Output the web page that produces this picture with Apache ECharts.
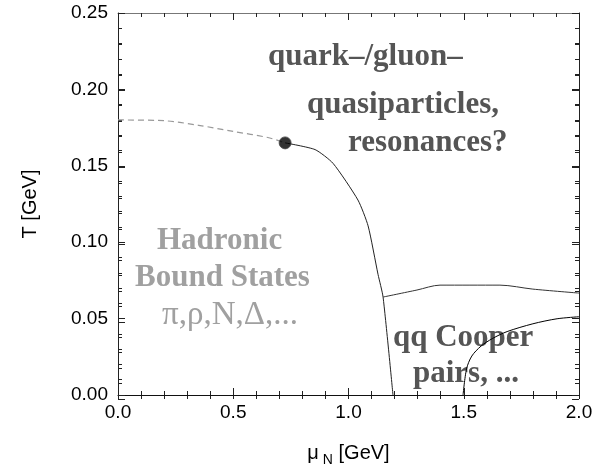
<!DOCTYPE html>
<html>
<head>
<meta charset="utf-8">
<script src="https://cdn.jsdelivr.net/npm/echarts@6/dist/echarts.min.js"></script>
<style>
  html, body { margin: 0; padding: 0; background: #fff; }
  #chart { width: 610px; height: 472px; }
</style>
</head>
<body>
<div id="chart"></div>
<script>
// phase boundaries, mu_N [GeV] vs T [GeV]
var dashedMu = [0.0, 0.2, 0.35, 0.5, 0.65, 0.725];
var dashedT = [0.180, 0.1795, 0.1765, 0.1725, 0.1685, 0.165];
var hadronMu = [0.725, 0.855, 0.933, 1.041, 1.085, 1.128, 1.150, 1.193];
var hadronT = [0.165, 0.1606, 0.1516, 0.1276, 0.1107, 0.079, 0.0641, 0.0];
var upperMu = [1.150, 1.297, 1.397, 1.657, 1.80, 2.0];
var upperT = [0.0641, 0.0687, 0.0719, 0.0719, 0.0693, 0.0667];
var lowerMu = [1.497, 1.512, 1.535, 1.575, 1.625, 1.688, 1.80, 1.905, 2.0];
var lowerT = [0.0, 0.0170, 0.0255, 0.0320, 0.0370, 0.0415, 0.0466, 0.0499, 0.0512];
var criticalMu = [0.725];
var criticalT = [0.165];

var xTicks = [0, 0.5, 1.0, 1.5, 2.0];
var yTicks = [0, 0.05, 0.10, 0.15, 0.20, 0.25];

function pairs(xs, ys) {
    var out = [];
    xs.forEach(function (x, i) { out.push([x, ys[i]]); });
    return out;
}

var sans = 'Liberation Sans';
var xMin = xTicks[0], xMax = xTicks[xTicks.length - 1];
var yMin = yTicks[0], yMax = yTicks[yTicks.length - 1];

// main plot box
var L = 118, R = 31, T = 13, B = 73;
var MAJ = 7, MIN = 4;

function mainAxis(pos, min, max, interval, lineColor) {
    return {
        type: 'value', gridIndex: 0, position: pos,
        min: min, max: max, interval: interval,
        axisLine: { show: true, onZero: false, lineStyle: { color: lineColor, width: 1 } },
        axisTick: { show: true, inside: true, length: MAJ, lineStyle: { color: '#222' } },
        minorTick: { show: true, splitNumber: 5, length: MIN, lineStyle: { color: '#222' } },
        axisLabel: { show: false },
        splitLine: { show: false },
        minorSplitLine: { show: false }
    };
}

// thin strips along the frame: their split lines act as inward ticks
function stripAxis(gi, min, max, interval, major) {
    return {
        type: 'value', gridIndex: gi, min: min, max: max, interval: interval,
        axisLine: { show: false }, axisTick: { show: false }, axisLabel: { show: false },
        splitLine: { show: major, lineStyle: { color: '#222', width: 1 } },
        minorTick: { show: false, splitNumber: 5 },
        minorSplitLine: { show: !major, lineStyle: { color: '#222', width: 1 } }
    };
}
function hiddenAxis(gi) {
    return { type: 'value', gridIndex: gi, show: false, min: 0, max: 1 };
}

var grids = [
    { left: L, right: R, top: T, bottom: B },
    { left: L, right: R, bottom: B, height: MAJ },
    { left: L, right: R, bottom: B, height: MIN },
    { left: L, right: R, top: T, height: MAJ },
    { left: L, right: R, top: T, height: MIN },
    { left: L, width: MAJ, top: T, bottom: B },
    { left: L, width: MIN, top: T, bottom: B },
    { right: R, width: MAJ, top: T, bottom: B },
    { right: R, width: MIN, top: T, bottom: B }
];

var xMain = mainAxis('bottom', xMin, xMax, 0.5, '#111');
xMain.axisLabel = {
    show: true, margin: 8, color: '#000', fontFamily: sans, fontSize: 19,
    formatter: function (v) { return v.toFixed(1); }
};
xMain.name = '{t|μ}{s|N}{t| [GeV]}';
xMain.nameLocation = 'middle';
xMain.nameGap = 44;
xMain.nameTextStyle = {
    rich: {
        t: { fontFamily: sans, fontSize: 20, color: '#000' },
        s: { fontFamily: sans, fontSize: 14, color: '#000', padding: [14, 0, 0, 4] }
    }
};

var yMain = mainAxis('left', yMin, yMax, 0.05, '#222');
yMain.axisLabel = {
    show: true, margin: 10, color: '#000', fontFamily: sans, fontSize: 19,
    formatter: function (v) { return v.toFixed(2); }
};
yMain.name = 'T [GeV]';
yMain.nameLocation = 'middle';
yMain.nameGap = 78;
yMain.nameRotate = 90;
yMain.nameTextStyle = { fontFamily: sans, fontSize: 20, color: '#000' };

var xAxes = [xMain, mainAxis('top', xMin, xMax, 0.5, '#777'),
    stripAxis(1, xMin, xMax, 0.5, true), stripAxis(2, xMin, xMax, 0.5, false),
    stripAxis(3, xMin, xMax, 0.5, true), stripAxis(4, xMin, xMax, 0.5, false),
    hiddenAxis(5), hiddenAxis(6), hiddenAxis(7), hiddenAxis(8)];
var yAxes = [yMain, mainAxis('right', yMin, yMax, 0.05, '#222'),
    hiddenAxis(1), hiddenAxis(2), hiddenAxis(3), hiddenAxis(4),
    stripAxis(5, yMin, yMax, 0.05, true), stripAxis(6, yMin, yMax, 0.05, false),
    stripAxis(7, yMin, yMax, 0.05, true), stripAxis(8, yMin, yMax, 0.05, false)];

var dark = 'bold 31px "Liberation Serif"';

var chart = echarts.init(document.getElementById('chart'));
chart.setOption({
    animation: false,
    grid: grids,
    xAxis: xAxes,
    yAxis: yAxes,
    series: [
        {
            type: 'line', data: pairs(dashedMu, dashedT), smooth: 0.3,
            symbol: 'none', lineStyle: { color: '#999', width: 1.2, type: [6, 4] }
        },
        {
            type: 'line', data: pairs(hadronMu, hadronT), smooth: 0.2,
            symbol: 'none', lineStyle: { color: '#222', width: 1 }
        },
        {
            type: 'line', data: pairs(upperMu, upperT), smooth: 0.3,
            symbol: 'none', lineStyle: { color: '#333', width: 1 }
        },
        {
            type: 'line', data: pairs(lowerMu, lowerT), smooth: 0.3,
            symbol: 'none', lineStyle: { color: '#000', width: 1 }
        },
        {
            type: 'scatter', data: pairs(criticalMu, criticalT), symbolSize: 12,
            itemStyle: { color: '#000', borderColor: '#444', borderWidth: 1 }, z: 5
        }
    ],
    graphic: [
        { type: 'text', left: 268, top: 41, style: { text: 'quark–/gluon–', font: dark, fill: '#555' } },
        { type: 'text', left: 307, top: 89, style: { text: 'quasiparticles,', font: dark, fill: '#555' } },
        { type: 'text', left: 348, top: 127, style: { text: 'resonances?', font: dark, fill: '#555' } },
        { type: 'text', left: 157, top: 225, style: { text: 'Hadronic', font: dark, fill: '#a0a0a0' } },
        { type: 'text', left: 135, top: 262, style: { text: 'Bound States', font: dark, fill: '#a0a0a0' } },
        { type: 'text', left: 162, top: 299, style: { text: 'π,ρ,N,Δ,...', font: '33px "Liberation Serif"', fill: '#a0a0a0' } },
        { type: 'text', left: 393, top: 322, style: { text: 'qq Cooper', font: dark, fill: '#555' } },
        { type: 'text', left: 413, top: 358, style: { text: 'pairs, ...', font: dark, fill: '#555' } }
    ]
});
</script>
</body>
</html>
